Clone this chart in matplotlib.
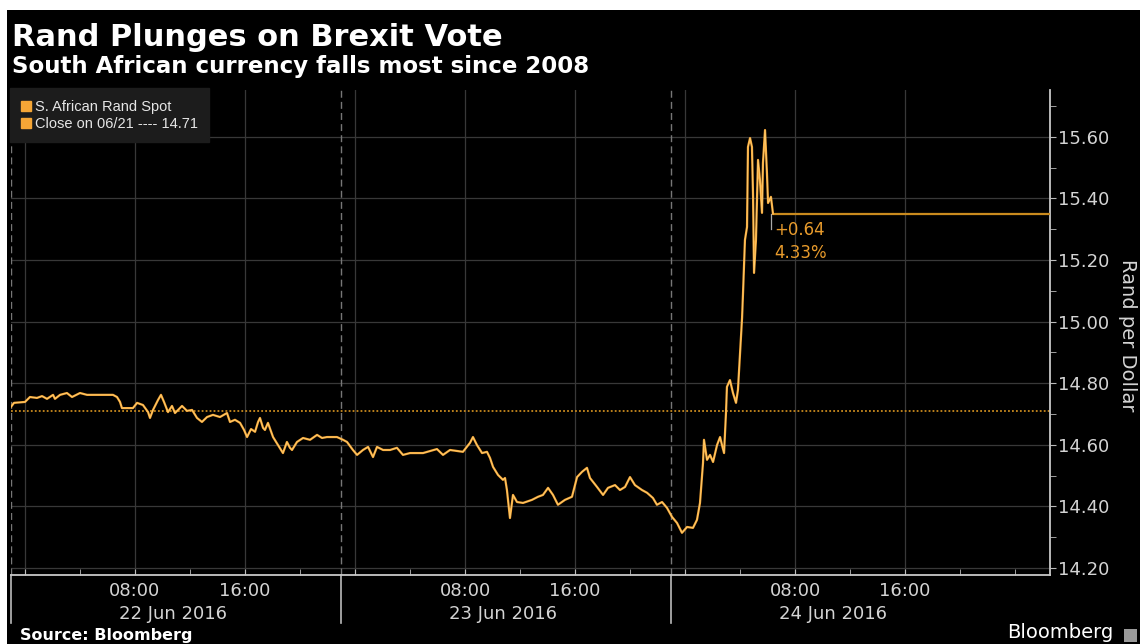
import matplotlib
matplotlib.use("Agg")
import matplotlib.pyplot as plt
import matplotlib.transforms as mtransforms
from matplotlib.lines import Line2D
from matplotlib.patches import Rectangle
from matplotlib.ticker import MultipleLocator, FormatStrFormatter

# hours after 22 Jun 2016 00:00
hours = [
    -1.02, -0.80, 0.00, 0.36, 0.87, 1.24, 1.60, 2.04, 2.18, 2.55, 3.05, 3.42, 4.00, 4.51, 4.95, 6.40, 6.69, 6.91, 7.05, 7.85,
    8.15, 8.58, 8.95, 9.09, 9.31, 9.67, 9.89, 10.11, 10.40, 10.69, 10.91, 11.42, 11.78, 12.15, 12.51, 12.87, 13.24, 13.67, 14.18, 14.69,
    14.91, 15.27, 15.64, 15.93, 16.15, 16.44, 16.73, 16.95, 17.09, 17.31, 17.45, 17.67, 18.04, 18.40, 18.76, 19.05, 19.27, 19.42, 19.78, 20.22,
    20.73, 21.24, 21.60, 21.96, 22.69, 23.13, 23.42, 23.85, 24.15, 24.58, 24.95, 25.31, 25.60, 26.04, 26.55, 27.05, 27.49, 28.00, 28.95, 29.96,
    30.40, 30.91, 31.85, 32.36, 32.58, 32.87, 33.24, 33.60, 33.82, 34.04, 34.40, 34.76, 34.91, 35.05, 35.27, 35.49, 35.78, 36.22, 36.87, 37.31,
    37.67, 38.04, 38.40, 38.76, 39.27, 39.78, 40.15, 40.51, 40.87, 41.09, 41.60, 42.04, 42.40, 42.91, 43.27, 43.64, 44.00, 44.36, 44.87, 45.24,
    45.67, 45.96, 46.33, 46.69, 47.05, 47.42, 47.78, 48.15, 48.58, 48.87, 49.09, 49.31, 49.38, 49.60, 49.82, 50.04, 50.33, 50.55, 50.69, 50.84,
    50.98, 51.05, 51.27, 51.49, 51.71, 51.85, 52.00, 52.15, 52.22, 52.36, 52.51, 52.58, 52.73, 52.87, 52.95, 53.02, 53.16, 53.31, 53.45, 53.60,
    53.67, 53.82, 53.96, 54.04, 54.25, 54.40,
]

# S. African Rand spot, rand per dollar
rand = [
    14.723, 14.736, 14.739, 14.755, 14.752, 14.758, 14.749, 14.762, 14.749, 14.762, 14.768, 14.755, 14.768, 14.762, 14.762, 14.762, 14.755, 14.739, 14.719, 14.719,
    14.736, 14.729, 14.706, 14.687, 14.713, 14.745, 14.762, 14.739, 14.706, 14.726, 14.703, 14.726, 14.710, 14.713, 14.687, 14.674, 14.690, 14.697, 14.690, 14.703,
    14.674, 14.681, 14.671, 14.648, 14.625, 14.651, 14.642, 14.674, 14.687, 14.655, 14.648, 14.671, 14.625, 14.599, 14.573, 14.609, 14.590, 14.583, 14.609, 14.622,
    14.616, 14.632, 14.622, 14.625, 14.625, 14.616, 14.609, 14.583, 14.567, 14.583, 14.593, 14.560, 14.593, 14.583, 14.583, 14.590, 14.567, 14.573, 14.573, 14.586,
    14.567, 14.583, 14.577, 14.606, 14.625, 14.599, 14.573, 14.577, 14.557, 14.528, 14.502, 14.486, 14.492, 14.453, 14.362, 14.437, 14.414, 14.411, 14.421, 14.431,
    14.437, 14.460, 14.437, 14.405, 14.421, 14.431, 14.495, 14.512, 14.525, 14.492, 14.463, 14.437, 14.460, 14.469, 14.453, 14.463, 14.495, 14.469, 14.453, 14.444,
    14.427, 14.405, 14.414, 14.395, 14.366, 14.346, 14.314, 14.333, 14.330, 14.356, 14.411, 14.541, 14.616, 14.551, 14.567, 14.544, 14.599, 14.625, 14.599, 14.573,
    14.703, 14.788, 14.810, 14.768, 14.736, 14.778, 14.892, 15.012, 15.093, 15.265, 15.307, 15.567, 15.596, 15.567, 15.405, 15.158, 15.265, 15.525, 15.460, 15.353,
    15.515, 15.622, 15.482, 15.385, 15.405, 15.350,
]

prev_close = 14.71
change = 0.64
change_pct = "4.33%"
last_price = prev_close + change

day_labels = ["22 Jun 2016", "23 Jun 2016", "24 Jun 2016"]
day_breaks = [-1, 23, 47]          # session separators (dashed)
grid_hours = list(range(0, 72, 8))
grid_labels = ["" if h % 24 == 0 else "%02d:00" % (h % 24) for h in grid_hours]

ORANGE = "#f5a636"
DARK_ORANGE = "#c98a1e"
GRID = "#383838"
TXT = "#d4d4d4"

W, H = 1140, 644
fig = plt.figure(figsize=(W / 100, H / 100), dpi=100, facecolor="white")
fig.add_artist(Rectangle((7 / W, 0), 1, 1 - 10 / H, transform=fig.transFigure,
                         facecolor="black", edgecolor="none", zorder=0))

ax = fig.add_axes([11 / W, 69 / H, 1039 / W, 485 / H])
ax.set_facecolor("black")
ax.set_xlim(-1.018, 74.545)
ax.set_ylim(14.177, 15.752)

# grid
for y in [14.2, 14.4, 14.6, 14.8, 15.0, 15.2, 15.4, 15.6]:
    ax.axhline(y, color=GRID, lw=0.9, zorder=1)
for h in grid_hours:
    ax.axvline(h, color=GRID, lw=0.9, zorder=1)
for d in day_breaks:
    ax.axvline(d, color="#777777", lw=1.0, ls=(0, (5, 3)), zorder=1)
    ax.plot([d, d], [0, -0.099], color="#bbbbbb", lw=1.2, clip_on=False,
            transform=mtransforms.blended_transform_factory(ax.transData, ax.transAxes))

# previous close reference and the price series
ax.axhline(prev_close, color=DARK_ORANGE, lw=1.3, ls=(0, (1, 1.2)), zorder=2)
ax.plot(hours, rand, color=ORANGE, lw=1.6, zorder=4)
ax.plot(hours, rand, color="#ffd27a", lw=0.5, zorder=5)
ax.hlines(last_price, hours[-1], ax.get_xlim()[1], color=DARK_ORANGE, lw=1.6, zorder=3)
ax.plot([hours[-1] - 0.15, hours[-1] - 0.15], [last_price, last_price - 0.05],
        color="#aaaaaa", lw=0.9, zorder=3)
ax.annotate("+%.2f" % change, (hours[-1], last_price), xytext=(1, -5),
            textcoords="offset points", ha="left", va="top", color="#e89b2c", fontsize=12)
ax.annotate(change_pct, (hours[-1], last_price), xytext=(1, -22),
            textcoords="offset points", ha="left", va="top", color="#e89b2c", fontsize=12)

# axes styling
for s in ["left", "top"]:
    ax.spines[s].set_visible(False)
for s in ["right", "bottom"]:
    ax.spines[s].set_color("#c8c8c8")
    ax.spines[s].set_linewidth(1.3)

ax.set_xticks(grid_hours, grid_labels)
ax.xaxis.set_minor_locator(MultipleLocator(4))
ax.tick_params(axis="x", which="both", direction="in", length=4, color="#bbbbbb",
               labelsize=13, labelcolor=TXT, pad=5)
ax.yaxis.tick_right()
ax.yaxis.set_major_locator(MultipleLocator(0.2))
ax.yaxis.set_minor_locator(MultipleLocator(0.1))
ax.yaxis.set_major_formatter(FormatStrFormatter("%.2f"))
ax.tick_params(axis="y", which="both", direction="out", length=4, color="#bbbbbb",
               labelsize=13, labelcolor=TXT, pad=2)

lab_tf = mtransforms.blended_transform_factory(ax.transData, ax.transAxes)
for i, lab in enumerate(day_labels):
    ax.text(i * 24 + 10.75, -0.08, lab, transform=lab_tf, ha="center", va="center",
            color=TXT, fontsize=13, clip_on=False)

fig.text(1128 / W, 1 - 335 / H, "Rand per Dollar", rotation=270, ha="center", va="center",
         color=TXT, fontsize=14)

# legend
handles = [Line2D([], [], marker="s", ls="none", color=ORANGE, markersize=7),
           Line2D([], [], marker="s", ls="none", color=ORANGE, markersize=7)]
leg = ax.legend(handles, ["S. African Rand Spot", "Close on 06/21 ---- %.2f" % prev_close],
                loc="upper left", bbox_to_anchor=(-0.001, 1.004), borderaxespad=0,
                frameon=True, facecolor="#1c1c1c", edgecolor="#1c1c1c", framealpha=1,
                fancybox=False, handlelength=0.6, handletextpad=0.3, borderpad=0.8,
                labelspacing=0.2, prop={"family": "Liberation Sans", "size": 10.5})
for t in leg.get_texts():
    t.set_color("#e6e6e6")
leg.set_zorder(6)

# titles and footer
fig.text(12 / W, 1 - 46 / H, "Rand Plunges on Brexit Vote", color="white",
         fontsize=22, fontweight="bold", va="baseline")
fig.text(12 / W, 1 - 73 / H, "South African currency falls most since 2008", color="white",
         fontsize=16.5, fontweight="bold", va="baseline")
fig.text(20 / W, 1 - 643 / H, "Source: Bloomberg", color="white", fontsize=11.5,
         fontweight="bold", va="bottom")
fig.text(1113 / W, 1 - 642 / H, "Bloomberg", color="white", fontsize=14, ha="right", va="bottom")
fig.add_artist(Rectangle((1124 / W, 1 - 642 / H), 13 / W, 13 / H, transform=fig.transFigure,
                         facecolor="#9a9a9a", edgecolor="none"))

fig.savefig("out.png", dpi=100, facecolor=fig.get_facecolor())
